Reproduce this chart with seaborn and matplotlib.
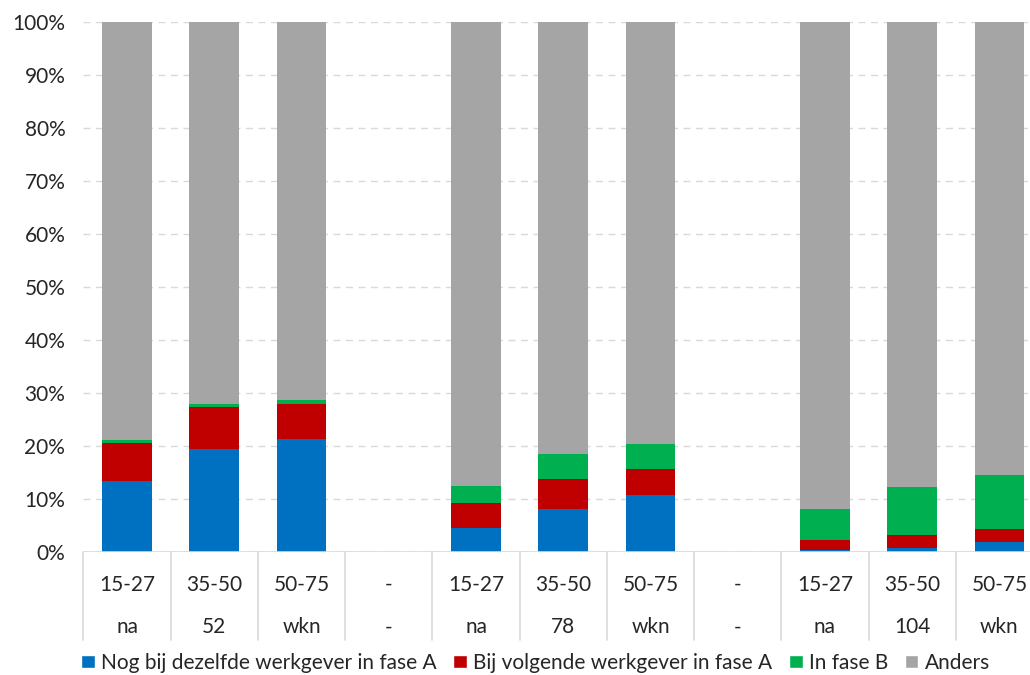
import numpy as np
import pandas as pd
import seaborn as sns
import matplotlib.pyplot as plt
from matplotlib.patches import Patch

# one slot per column, "-" slots are empty gaps between the groups
top_labels = ["15-27", "35-50", "50-75", "-", "15-27", "35-50", "50-75", "-", "15-27", "35-50", "50-75"]
bottom_labels = ["na", "52", "wkn", "-", "na", "78", "wkn", "-", "na", "104", "wkn"]
is_bar = [1, 1, 1, 0, 1, 1, 1, 0, 1, 1, 1]

# percentages
same_employer = [13.4, 19.4, 21.4, 0, 4.5, 8.1, 10.7, 0, 0.3, 0.7, 1.9]
next_employer = [7.2, 8.0, 6.6, 0, 4.7, 5.7, 5.0, 0, 1.9, 2.6, 2.5]
phase_b = [0.5, 0.6, 0.7, 0, 3.3, 4.6, 4.7, 0, 5.9, 9.0, 10.2]

series = ["Nog bij dezelfde werkgever in fase A", "Bij volgende werkgever in fase A", "In fase B", "Anders"]
colors = ["#0070C0", "#C00000", "#00B050", "#A5A5A5"]


def main():
    slots = [str(i) for i in range(len(top_labels))]
    df = pd.DataFrame({"slot": slots,
                       series[0]: same_employer,
                       series[1]: next_employer,
                       series[2]: phase_b})
    df[series[3]] = 100 * np.array(is_bar) - df[series[:3]].sum(axis=1)

    sns.set_style("white")
    plt.rcParams['font.family'] = ['Lato', 'DejaVu Sans']
    fs = 15

    fig = plt.figure(figsize=(10.3, 6.75), dpi=100)
    ax = fig.add_axes([0.081, 0.1822, 0.919, 0.7852])

    # stack by drawing cumulative totals, tallest first
    cum = df[series].cumsum(axis=1)
    for name, col in reversed(list(zip(series, colors))):
        sns.barplot(ax=ax, x=df["slot"], y=cum[name], order=slots, color=col,
                    width=0.57, linewidth=0, saturation=1, zorder=3)

    ax.set_xlim(-0.5, 10.35)
    ax.set_ylim(0, 100)
    ax.set_yticks(range(0, 101, 10))
    ax.set_yticklabels([f"{v}%" for v in range(0, 101, 10)], fontsize=fs)
    ax.tick_params(axis="y", length=0, pad=13)
    ax.set_xticks([])
    ax.set_xlabel("")
    ax.set_ylabel("")
    for s in ax.spines.values():
        s.set_visible(False)
    ax.yaxis.grid(True, color="#D9D9D9", linestyle=(0, (5, 4)), linewidth=1, zorder=0)
    ax.set_axisbelow(True)
    ax.axhline(0, color="#D9D9D9", linewidth=1.2, zorder=4)

    # two-row category table under the axis
    for i in range(len(slots) + 1):
        ax.plot([i - 0.5, i - 0.5], [0, -16.6], color="#D9D9D9", linewidth=1.2, clip_on=False)
    for i, (t, b) in enumerate(zip(top_labels, bottom_labels)):
        ax.text(i, -6.2, t, ha="center", va="center", fontsize=fs)
        ax.text(i, -14.2, b, ha="center", va="center", fontsize=fs)

    handles = [Patch(facecolor=c, label=n) for n, c in zip(series, colors)]
    fig.legend(handles=handles, loc="center", bbox_to_anchor=(0.52, 0.018), ncol=4,
               frameon=False, fontsize=fs, handlelength=0.65, handleheight=0.65,
               handletextpad=0.3, columnspacing=0.8)

    plt.savefig("out.png", dpi=100)


if __name__ == "__main__":
    main()
